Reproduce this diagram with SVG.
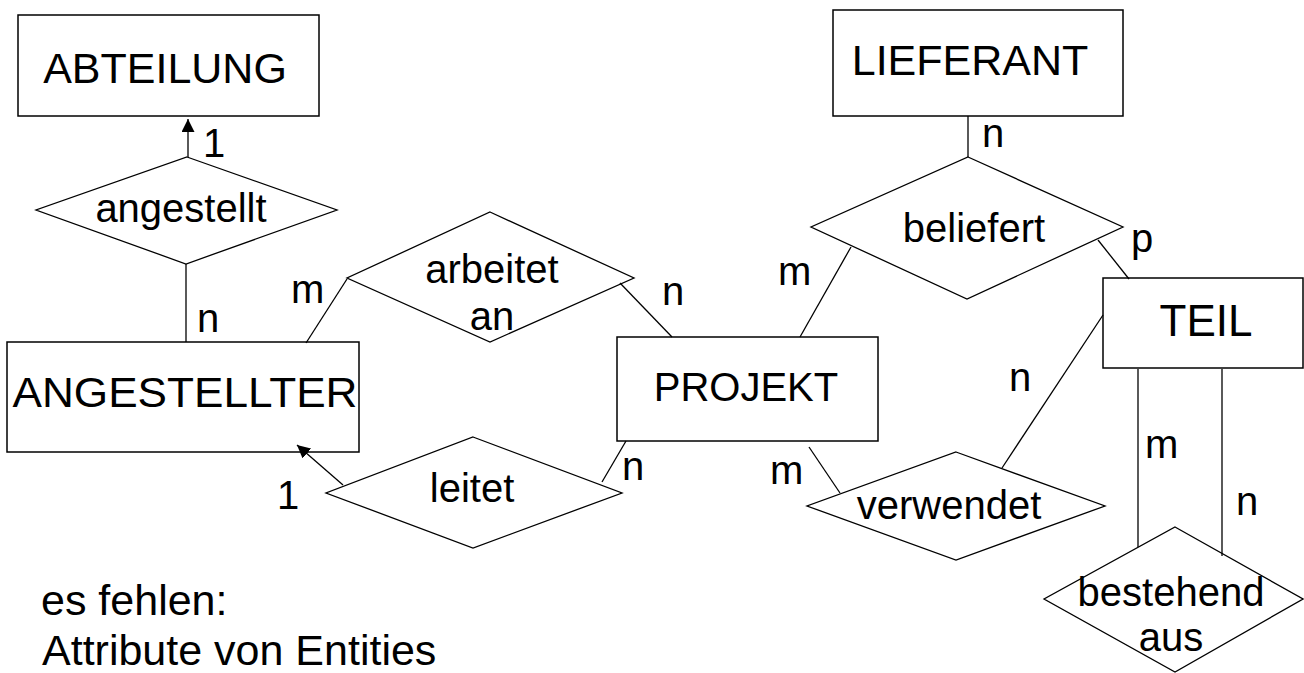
<svg xmlns="http://www.w3.org/2000/svg" width="1304" height="673" viewBox="0 0 1304 673">
  <style>
    .entity { fill: #ffffff; stroke: #000000; stroke-width: 1.5; }
    .rel { fill: #ffffff; stroke: #000000; stroke-width: 1.3; }
    .conn { stroke: #000000; stroke-width: 1.3; fill: none; }
    .big { font-family: "Liberation Sans", Arial, sans-serif; font-size: 43px; fill: #000000; }
    .mid { font-family: "Liberation Sans", Arial, sans-serif; font-size: 40px; fill: #000000; }
    .ctr { text-anchor: middle; }
  </style>
  <defs>
    <marker id="arrow" markerUnits="userSpaceOnUse" markerWidth="14" markerHeight="13" refX="13" refY="6.5" orient="auto">
      <path d="M0,0 L13,6.5 L0,13 z" fill="#000000"/>
    </marker>
  </defs>

  <rect width="1304" height="673" fill="#ffffff"/>

  <!-- entities -->
  <g id="abteilung">
    <rect class="entity" x="18" y="15" width="301" height="101"/>
    <text class="big ctr" x="165" y="83">ABTEILUNG</text>
  </g>
  <g id="angestellter">
    <rect class="entity" x="7" y="342" width="352" height="110"/>
    <text class="big ctr" x="185" y="407" textLength="345" lengthAdjust="spacingAndGlyphs">ANGESTELLTER</text>
  </g>
  <g id="projekt">
    <rect class="entity" x="617" y="337" width="261" height="104"/>
    <text class="mid ctr" x="746" y="401">PROJEKT</text>
  </g>
  <g id="lieferant">
    <rect class="entity" x="833" y="10" width="290" height="106"/>
    <text class="big ctr" x="970" y="75">LIEFERANT</text>
  </g>
  <g id="teil">
    <rect class="entity" x="1103" y="278" width="200" height="90"/>
    <text class="big ctr" x="1206" y="336" style="font-size:44px">TEIL</text>
  </g>

  <!-- relationships -->
  <g id="angestellt">
    <polygon class="rel" points="187,157 337,210 186,264 36,210"/>
    <text class="mid ctr" x="181" y="222">angestellt</text>
  </g>
  <g id="arbeitet-an">
    <polygon class="rel" points="490,212 634,278 490,342 347,278"/>
    <text class="mid ctr" x="492" y="283">arbeitet</text>
    <text class="mid ctr" x="492" y="330">an</text>
  </g>
  <g id="leitet">
    <polygon class="rel" points="473,437 622,493 473,548 326,493"/>
    <text class="mid ctr" x="472" y="502">leitet</text>
  </g>
  <g id="beliefert">
    <polygon class="rel" points="968,157 1123,227 967,299 811,227"/>
    <text class="mid ctr" x="974" y="242">beliefert</text>
  </g>
  <g id="verwendet">
    <polygon class="rel" points="956,452 1105,506 956,560 807,506"/>
    <text class="mid ctr" x="949" y="519">verwendet</text>
  </g>
  <g id="bestehend-aus">
    <polygon class="rel" points="1175,527 1303,599 1175,672 1044,599"/>
    <text class="mid ctr" x="1171" y="606">bestehend</text>
    <text class="mid ctr" x="1171" y="651">aus</text>
  </g>

  <!-- connectors -->
  <g id="connectors">
    <line class="conn" x1="188" y1="157" x2="188" y2="119" marker-end="url(#arrow)"/>
    <line class="conn" x1="186" y1="264" x2="186" y2="342"/>
    <line class="conn" x1="306" y1="343" x2="347" y2="279"/>
    <line class="conn" x1="620" y1="283" x2="672" y2="337"/>
    <line class="conn" x1="343" y1="485" x2="297" y2="445" marker-end="url(#arrow)"/>
    <line class="conn" x1="602" y1="482" x2="626" y2="441"/>
    <line class="conn" x1="809" y1="447" x2="840" y2="493"/>
    <line class="conn" x1="1103" y1="315" x2="1002" y2="468"/>
    <line class="conn" x1="968" y1="116" x2="968" y2="157"/>
    <line class="conn" x1="851" y1="247" x2="800" y2="337"/>
    <line class="conn" x1="1098" y1="240" x2="1129" y2="279"/>
    <line class="conn" x1="1138" y1="369" x2="1138" y2="547"/>
    <line class="conn" x1="1222" y1="369" x2="1222" y2="556"/>

    <!-- cardinalities -->
    <text class="mid" x="203" y="157">1</text>
    <text class="mid" x="197" y="332">n</text>
    <text class="mid" x="291" y="303">m</text>
    <text class="mid" x="662" y="305">n</text>
    <text class="mid" x="277" y="509">1</text>
    <text class="mid" x="622" y="480">n</text>
    <text class="mid" x="770" y="484">m</text>
    <text class="mid" x="1009" y="391">n</text>
    <text class="mid" x="778" y="285">m</text>
    <text class="mid" x="982" y="147">n</text>
    <text class="mid" x="1131" y="252">p</text>
    <text class="mid" x="1145" y="458">m</text>
    <text class="mid" x="1236" y="515">n</text>
  </g>

  <!-- note -->
  <g id="note">
    <text class="big" x="41" y="615">es fehlen:</text>
    <text class="big" x="42" y="665">Attribute von Entities</text>
  </g>
</svg>
